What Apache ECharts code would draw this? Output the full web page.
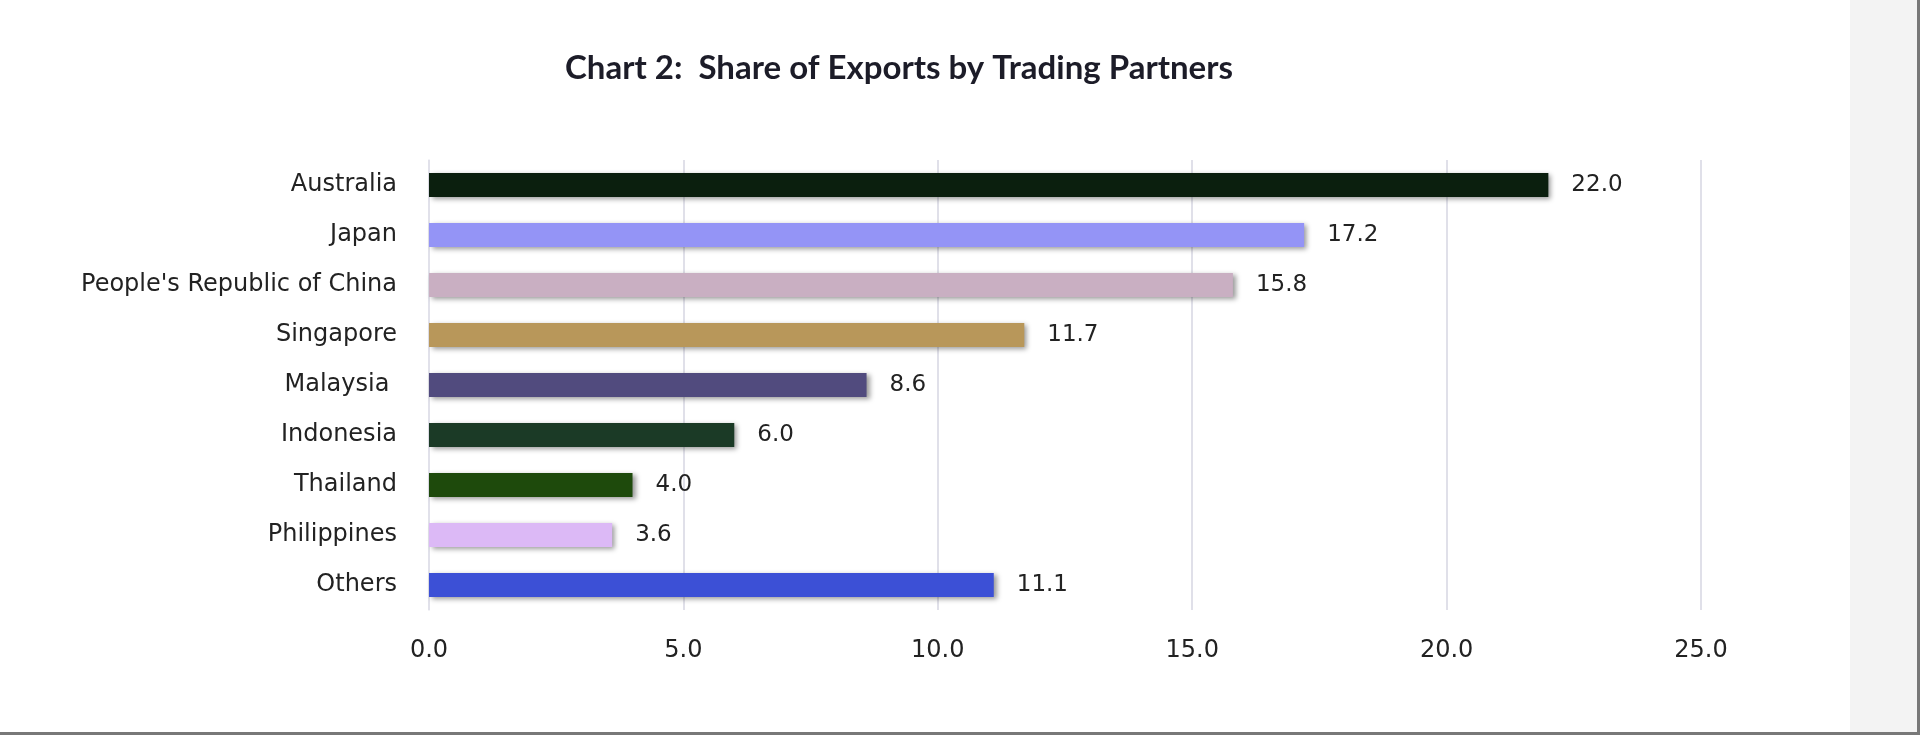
<!DOCTYPE html>
<html>
<head>
<meta charset="utf-8">
<script src="https://cdn.jsdelivr.net/npm/echarts@6/dist/echarts.min.js"></script>
<style>
  html, body { margin: 0; padding: 0; background: #fff; }
  #chart { width: 1920px; height: 735px; }
</style>
</head>
<body>
<div id="chart"></div>
<script>
// trading partners, top to bottom
var partners = ['Australia', 'Japan', "People's Republic of China", 'Singapore', 'Malaysia ', 'Indonesia', 'Thailand', 'Philippines', 'Others'];
var shares = [22.0, 17.2, 15.8, 11.7, 8.6, 6.0, 4.0, 3.6, 11.1];
var barColors = ['#0b1f0e', '#9494f6', '#c9afc2', '#b8975a', '#514b7e', '#1b3a26', '#1e4a0c', '#dcb9f6', '#3c50d6'];
var xTicks = [0, 5, 10, 15, 20, 25];

var chart = echarts.init(document.getElementById('chart'));

var labelFont = 'DejaVu Sans';

var option = {
    backgroundColor: '#ffffff',
    animation: false,
    title: {
        text: 'Chart 2:  Share of Exports by Trading Partners',
        left: 894,
        textAlign: 'center',
        top: 47,
        textStyle: {
            fontFamily: 'Lato',
            fontWeight: 'bold',
            fontSize: 33,
            color: '#1c1c28'
        }
    },
    graphic: [
        { type: 'rect', shape: { x: 1850, y: 0, width: 70, height: 735 }, style: { fill: '#f3f3f3' }, silent: true },
        { type: 'rect', shape: { x: 1917, y: 0, width: 3, height: 735 }, style: { fill: '#787878' }, silent: true },
        { type: 'rect', shape: { x: 0, y: 732, width: 1920, height: 3 }, style: { fill: '#787878' }, silent: true }
    ],
    grid: {
        left: 429,
        right: 219,
        top: 160,
        bottom: 125
    },
    xAxis: {
        type: 'value',
        min: xTicks[0],
        max: xTicks[xTicks.length - 1],
        interval: 5,
        axisLine: { show: false },
        axisTick: { show: false },
        axisLabel: {
            margin: 29,
            fontFamily: labelFont,
            fontSize: 24,
            color: '#222222',
            formatter: function (v) { return v.toFixed(1); }
        },
        splitLine: { lineStyle: { color: '#d6d6e2', width: 1.5 } }
    },
    yAxis: {
        type: 'category',
        inverse: true,
        data: partners,
        axisLine: { show: true, lineStyle: { color: '#e2e2ea', width: 1.5 } },
        axisTick: { show: false },
        axisLabel: {
            margin: 32,
            fontFamily: labelFont,
            fontSize: 24,
            color: '#222222'
        }
    },
    series: [{
        type: 'bar',
        barWidth: 24,
        data: shares.map(function (v, i) {
            return { value: v, itemStyle: { color: barColors[i] } };
        }),
        itemStyle: {
            shadowColor: 'rgba(0,0,0,0.4)',
            shadowBlur: 5,
            shadowOffsetX: 3,
            shadowOffsetY: 2
        },
        label: {
            show: true,
            position: 'right',
            distance: 23,
            fontFamily: labelFont,
            fontSize: 23,
            color: '#222222',
            formatter: function (p) { return p.value.toFixed(1); }
        }
    }]
};

chart.setOption(option);
</script>
</body>
</html>
